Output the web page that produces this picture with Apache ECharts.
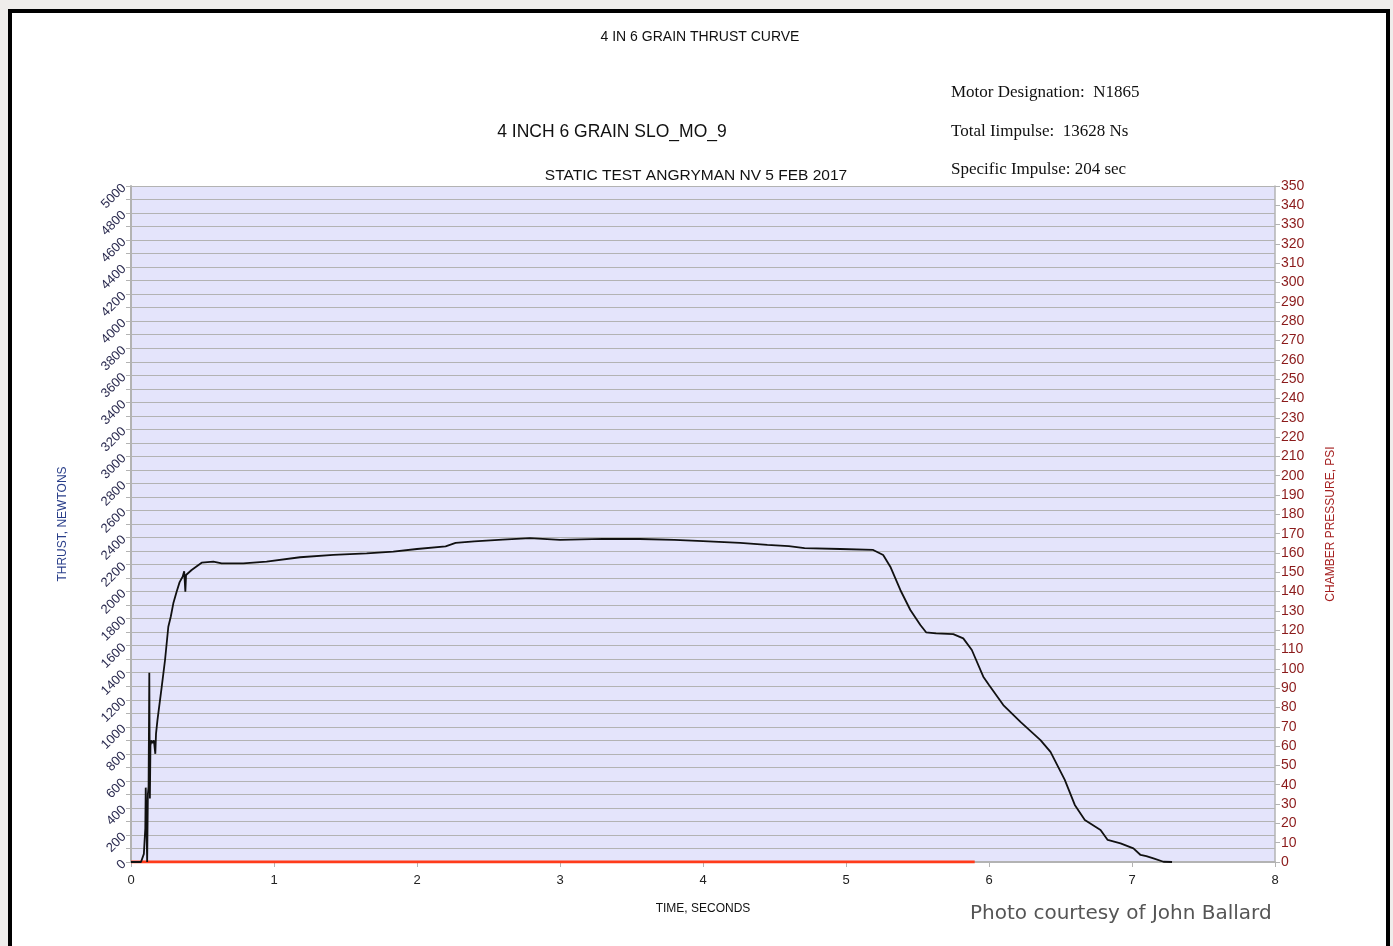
<!DOCTYPE html>
<html>
<head>
<meta charset="utf-8">
<title>4 IN 6 GRAIN THRUST CURVE</title>
<script src="https://cdn.jsdelivr.net/npm/echarts@6/dist/echarts.min.js"></script>
<style>
  html, body { margin: 0; padding: 0; background: #efedeb; }
  #chart { width: 1393px; height: 946px; }
</style>
</head>
<body>
<div id="chart"></div>
<script>
// time in seconds / thrust in newtons
const timeSec = [0, 0.07, 0.09, 0.1, 0.103, 0.108, 0.113, 0.118, 0.123, 0.128, 0.132, 0.136, 0.142, 0.15, 0.16, 0.17, 0.175, 0.18, 0.185, 0.191,
  0.215, 0.238, 0.261, 0.278, 0.296, 0.319, 0.34, 0.361, 0.372, 0.38, 0.385, 0.424, 0.494, 0.576, 0.634, 0.785, 0.948,
  1.182, 1.415, 1.648, 1.834, 2.0, 2.2, 2.27, 2.4, 2.6, 2.79, 3.0, 3.3, 3.56, 3.8, 4.0, 4.26, 4.45, 4.6, 4.71, 4.96, 5.19,
  5.26, 5.31, 5.38, 5.45, 5.52, 5.56, 5.63, 5.75, 5.82, 5.88, 5.96, 6.0, 6.1, 6.22, 6.36, 6.43, 6.53, 6.6, 6.67, 6.78, 6.83,
  6.92, 7.01, 7.06, 7.1, 7.15, 7.22, 7.28];
const thrustN = [0, 0, 60, 250, 550, 300, 0, 500, 560, 1400, 470, 860, 900, 880, 900, 800, 950, 1000, 1050, 1100,
  1297, 1494, 1740, 1814, 1913, 1999, 2070, 2110, 2150, 1999, 2123, 2160, 2214, 2221, 2209, 2209, 2221,
  2254, 2271, 2283, 2295, 2315, 2335, 2360, 2372, 2385, 2396, 2382, 2390, 2389, 2382, 2374, 2360, 2345, 2337, 2322, 2315, 2308,
  2271, 2184, 2012, 1864, 1753, 1699, 1691, 1686, 1654, 1568, 1371, 1309, 1161, 1036, 902, 814, 607, 422, 311, 237, 163,
  138, 101, 52, 44, 27, 2, 0];
// chamber pressure (psi) trace, flat at zero
const pressTime = [0, 5.9];
const pressPsi = [0, 0];

const timeTicks = [0, 1, 2, 3, 4, 5, 6, 7, 8];

const chart = echarts.init(document.getElementById('chart'));

const option = {
  backgroundColor: '#efedeb',
  animation: false,
  title: [
    { text: '4 IN 6 GRAIN THRUST CURVE', left: 695, top: 25, textAlign: 'center',
      textStyle: { fontFamily: 'Liberation Sans', fontSize: 14, fontWeight: 'normal', color: '#111' } },
    { text: '4 INCH 6 GRAIN SLO_MO_9', left: 607, top: 118, textAlign: 'center',
      textStyle: { fontFamily: 'Liberation Sans', fontSize: 17.5, fontWeight: 'normal', color: '#111' } },
    { text: 'STATIC TEST ANGRYMAN NV 5 FEB 2017', left: 691, top: 163, textAlign: 'center',
      textStyle: { fontFamily: 'Liberation Sans', fontSize: 15.5, fontWeight: 'normal', color: '#111' } }
  ],
  graphic: [
    { type: 'rect', z: -10, shape: { x: 10, y: 11, width: 1378, height: 950 },
      style: { fill: '#fff', stroke: '#000', lineWidth: 4 } },
    { type: 'text', left: 951, top: 84, style: { text: 'Motor Designation:  N1865', font: '17px "Liberation Serif"', fill: '#111' } },
    { type: 'text', left: 951, top: 123, style: { text: 'Total Iimpulse:  13628 Ns', font: '17px "Liberation Serif"', fill: '#111' } },
    { type: 'text', left: 951, top: 161, style: { text: 'Specific Impulse: 204 sec', font: '17px "Liberation Serif"', fill: '#111' } },
    { type: 'text', left: 970, top: 904, style: { text: 'Photo courtesy of John Ballard', font: '20px "DejaVu Sans"', fill: '#555' } }
  ],
  grid: { left: 131, right: 118, top: 186, bottom: 84, show: true, backgroundColor: '#e4e4fb', borderWidth: 0 },
  xAxis: {
    type: 'value', min: 0, max: 8, interval: 1,
    name: 'TIME, SECONDS', nameLocation: 'middle', nameGap: 41,
    nameTextStyle: { fontFamily: 'Liberation Sans', fontSize: 12, color: '#111' },
    axisLine: { show: true, onZero: false, lineStyle: { color: '#b3b3b3', width: 2 } },
    axisTick: { show: true, length: 5, lineStyle: { color: '#b3b3b3' } },
    axisLabel: { fontFamily: 'Liberation Sans', fontSize: 13, color: '#222', margin: 12,
      formatter: v => timeTicks.includes(v) ? String(v) : '' },
    splitLine: { show: false }
  },
  yAxis: [
    {
      type: 'value', min: 0, max: 5000, interval: 100, position: 'left',
      name: 'THRUST, NEWTONS', nameLocation: 'middle', nameGap: 62,
      nameTextStyle: { fontFamily: 'Liberation Sans', fontSize: 12, color: '#2a3f8a' },
      axisLine: { show: true, lineStyle: { color: '#b3b3b3', width: 2 } },
      axisTick: { show: true, length: 5, lineStyle: { color: '#b3b3b3' } },
      axisLabel: { rotate: 45, fontFamily: 'Liberation Sans', fontSize: 13, color: '#2b2b50', margin: 7,
        formatter: v => (v % 200 === 0 ? String(v) : '') },
      splitLine: { show: true, lineStyle: { color: '#b3b3b3', width: 1.2 } }
    },
    {
      type: 'value', min: 0, max: 350, interval: 10, position: 'right',
      name: 'CHAMBER PRESSURE, PSI', nameLocation: 'middle', nameGap: 50,
      nameTextStyle: { fontFamily: 'Liberation Sans', fontSize: 12, color: '#a52020' },
      axisLine: { show: true, lineStyle: { color: '#b3b3b3', width: 1.5 } },
      axisTick: { show: true, length: 5, lineStyle: { color: '#b3b3b3' } },
      axisLabel: { fontFamily: 'Liberation Sans', fontSize: 14, color: '#8b1a1a', margin: 6 },
      splitLine: { show: false }
    }
  ],
  series: [
    {
      name: 'Pressure', type: 'line', yAxisIndex: 1, symbol: 'none', z: 3,
      data: pressTime.map((t, i) => [t, pressPsi[i]]),
      lineStyle: { color: '#ff3b1a', width: 3 }
    },
    {
      name: 'Thrust', type: 'line', yAxisIndex: 0, symbol: 'none', z: 4,
      data: timeSec.map((t, i) => [t, thrustN[i]]),
      lineStyle: { color: '#111', width: 1.8 }
    }
  ]
};

chart.setOption(option);
</script>
</body>
</html>
